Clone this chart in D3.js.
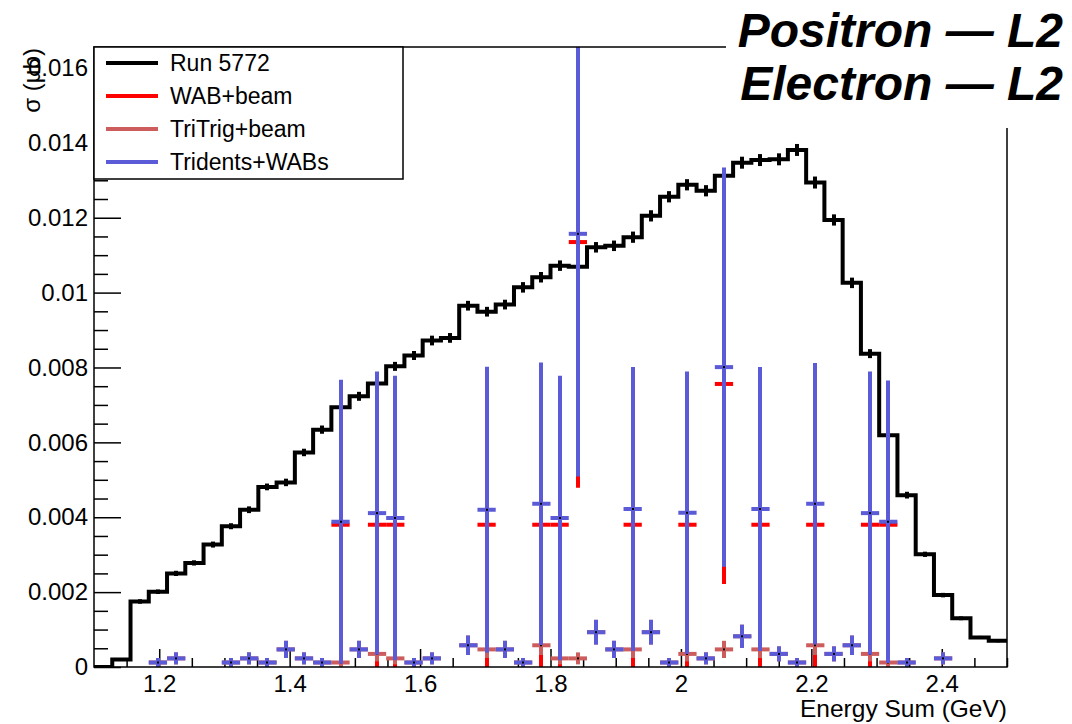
<!DOCTYPE html>
<html>
<head>
<meta charset="utf-8">
<script src="https://cdn.jsdelivr.net/npm/d3@7"></script>
<style>
  body { margin: 0; background: #ffffff; }
  svg text { font-family: "Liberation Sans", Arial, Helvetica, sans-serif; fill: #000; }
</style>
</head>
<body>
<svg id="chart" width="1072" height="724"></svg>
<script>
// ---- data: energy-sum histogram, 50 bins of 0.028 GeV from 1.1 to 2.5 GeV ----
const binWidth = 0.028;
const binCenters = [
  1.114, 1.142, 1.170, 1.198, 1.226, 1.254, 1.282, 1.310, 1.338, 1.366,
  1.394, 1.422, 1.450, 1.478, 1.506, 1.534, 1.562, 1.590, 1.618, 1.646,
  1.674, 1.702, 1.730, 1.758, 1.786, 1.814, 1.842, 1.870, 1.898, 1.926,
  1.954, 1.982, 2.010, 2.038, 2.066, 2.094, 2.122, 2.150, 2.178, 2.206,
  2.234, 2.262, 2.290, 2.318, 2.346, 2.374, 2.402, 2.430, 2.458, 2.486
];

// Run 5772 (data)
const runValues = [
  0.00000, 0.00020, 0.00175, 0.00201, 0.00250, 0.00278, 0.00327, 0.00376, 0.00420, 0.00481,
  0.00493, 0.00573, 0.00634, 0.00694, 0.00723, 0.00757, 0.00803, 0.00832, 0.00872, 0.00879,
  0.00965, 0.00949, 0.00968, 0.01014, 0.01041, 0.01072, 0.01069, 0.01121, 0.01125, 0.01148,
  0.01205, 0.01256, 0.01288, 0.01272, 0.01312, 0.01347, 0.01354, 0.01356, 0.01381, 0.01294,
  0.01194, 0.01026, 0.00837, 0.00619, 0.00459, 0.00301, 0.00192, 0.00130, 0.00079, 0.00070
];
const runErrors = [
  0.00000, 0.00002, 0.00006, 0.00006, 0.00007, 0.00007, 0.00008, 0.00008, 0.00009, 0.00009,
  0.00010, 0.00010, 0.00011, 0.00011, 0.00012, 0.00012, 0.00012, 0.00012, 0.00013, 0.00013,
  0.00013, 0.00013, 0.00013, 0.00014, 0.00014, 0.00014, 0.00014, 0.00014, 0.00014, 0.00015,
  0.00015, 0.00015, 0.00015, 0.00015, 0.00016, 0.00016, 0.00016, 0.00016, 0.00016, 0.00016,
  0.00015, 0.00014, 0.00012, 0.00011, 0.00009, 0.00007, 0.00006, 0.00005, 0.00004, 0.00004
];

// WAB+beam
const wabEnergy = [1.478, 1.534, 1.562, 1.702, 1.786, 1.814, 1.842, 1.926, 2.010, 2.066, 2.122, 2.206, 2.290, 2.318];
const wabValues = [0.0038, 0.0038, 0.0038, 0.0038, 0.0038, 0.0038, 0.01135, 0.0038, 0.0038, 0.00756, 0.0038, 0.0038, 0.0038, 0.0038];
const wabErrors = [0.0038, 0.0038, 0.0038, 0.0038, 0.0038, 0.0038, 0.00656, 0.0038, 0.0038, 0.00534, 0.0038, 0.0038, 0.0038, 0.0038];

// TriTrig+beam
const triEnergy = [
  1.198, 1.226, 1.310, 1.338, 1.366, 1.394, 1.422, 1.450, 1.478, 1.506,
  1.534, 1.562, 1.590, 1.618, 1.674, 1.702, 1.730, 1.758, 1.786, 1.814,
  1.842, 1.870, 1.898, 1.926, 1.954, 1.982, 2.010, 2.038, 2.066, 2.094,
  2.122, 2.150, 2.178, 2.206, 2.234, 2.262, 2.290, 2.318, 2.346, 2.402
];
const triValues = [
  0.00012, 0.00023, 0.00012, 0.00023, 0.00012, 0.00047, 0.00023, 0.00012, 0.00012, 0.00047,
  0.00035, 0.00023, 0.00012, 0.00023, 0.00058, 0.00047, 0.00047, 0.00012, 0.00058, 0.00023,
  0.00023, 0.00093, 0.00047, 0.00047, 0.00093, 0.00012, 0.00035, 0.00023, 0.00047, 0.00082,
  0.00047, 0.00035, 0.00012, 0.00058, 0.00035, 0.00058, 0.00035, 0.00012, 0.00012, 0.00023
];
const triErrors = [
  0.00012, 0.00016, 0.00012, 0.00016, 0.00012, 0.00023, 0.00016, 0.00012, 0.00012, 0.00023,
  0.00020, 0.00016, 0.00012, 0.00016, 0.00026, 0.00023, 0.00023, 0.00012, 0.00026, 0.00016,
  0.00016, 0.00033, 0.00023, 0.00023, 0.00033, 0.00012, 0.00020, 0.00016, 0.00023, 0.00031,
  0.00023, 0.00020, 0.00012, 0.00026, 0.00020, 0.00026, 0.00020, 0.00012, 0.00012, 0.00016
];

// Tridents+WABs
const sumEnergy = triEnergy;
const sumValues = [
  0.00012, 0.00023, 0.00012, 0.00023, 0.00012, 0.00047, 0.00023, 0.00012, 0.00388, 0.00047,
  0.00411, 0.00398, 0.00012, 0.00023, 0.00058, 0.00420, 0.00047, 0.00012, 0.00436, 0.00398,
  0.01157, 0.00093, 0.00047, 0.00422, 0.00093, 0.00012, 0.00412, 0.00023, 0.00801, 0.00082,
  0.00422, 0.00035, 0.00012, 0.00436, 0.00035, 0.00058, 0.00411, 0.00388, 0.00012, 0.00023
];
const sumErrors = [
  0.00012, 0.00016, 0.00012, 0.00016, 0.00012, 0.00023, 0.00016, 0.00012, 0.00379, 0.00023,
  0.00378, 0.00380, 0.00012, 0.00016, 0.00026, 0.00382, 0.00023, 0.00012, 0.00377, 0.00380,
  0.00648, 0.00033, 0.00023, 0.00379, 0.00033, 0.00012, 0.00377, 0.00016, 0.00533, 0.00031,
  0.00379, 0.00020, 0.00012, 0.00376, 0.00020, 0.00026, 0.00378, 0.00377, 0.00012, 0.00016
];

const xTickValues = [1.2, 1.4, 1.6, 1.8, 2.0, 2.2, 2.4];
const xTickLabels = ["1.2", "1.4", "1.6", "1.8", "2", "2.2", "2.4"];
const yTickValues = [0, 0.002, 0.004, 0.006, 0.008, 0.010, 0.012, 0.014, 0.016];
const yTickLabels = ["0", "0.002", "0.004", "0.006", "0.008", "0.01", "0.012", "0.014", "0.016"];

const legendNames = ["Run 5772", "WAB+beam", "TriTrig+beam", "Tridents+WABs"];
const titleLines = ["Positron \u2014 L2", "Electron \u2014 L2"];

// ---- layout ----
const W = 1072, H = 724;
const frame = { left: 94, right: 1007, top: 47, bottom: 667 };
const colors = { run: "#000000", wab: "#ff0000", tri: "#cd5c5c", sum: "#5b5bd8" };

const svg = d3.select("#chart");
svg.append("rect").attr("width", W).attr("height", H).attr("fill", "#fff");

const x = d3.scaleLinear().domain([1.1, 2.5]).range([frame.left, frame.right]);
const y = d3.scaleLinear().domain([0, 0.01656]).range([frame.bottom, frame.top]);
// pixel-aligned centre for 4px-wide vertical bars
const xc = v => Math.round(x(v));

svg.append("defs").append("clipPath").attr("id", "plotClip")
  .append("rect")
  .attr("x", frame.left).attr("y", frame.top)
  .attr("width", frame.right - frame.left).attr("height", frame.bottom - frame.top);

// ---- axes (ticks point into the frame) ----
const fontSize = 24;
const xMinor = d3.range(1.15, 2.5001, 0.05).filter(v => !xTickValues.some(t => Math.abs(t - v) < 1e-6));
const yMinor = d3.range(0.0005, 0.01656, 0.0005).filter(v => !yTickValues.some(t => Math.abs(t - v) < 1e-9));

const gxMinor = svg.append("g").attr("transform", `translate(0,${frame.bottom})`)
  .call(d3.axisBottom(x).tickValues(xMinor).tickSize(-9).tickFormat(""));
const gx = svg.append("g").attr("transform", `translate(0,${frame.bottom})`)
  .call(d3.axisBottom(x).tickValues(xTickValues).tickSize(-18).tickPadding(8)
    .tickFormat((d, i) => xTickLabels[i]));
const gyMinor = svg.append("g").attr("transform", `translate(${frame.left},0)`)
  .call(d3.axisLeft(y).tickValues(yMinor).tickSize(-14).tickFormat(""));
const gy = svg.append("g").attr("transform", `translate(${frame.left},0)`)
  .call(d3.axisLeft(y).tickValues(yTickValues).tickSize(-27).tickPadding(6)
    .tickFormat((d, i) => yTickLabels[i]));

[gxMinor, gx, gyMinor, gy].forEach(g => {
  g.select(".domain").remove();
  g.selectAll(".tick line").attr("stroke", "#000").attr("stroke-width", 1.5);
  g.selectAll(".tick text").attr("font-size", fontSize)
    .style("font-family", '"Liberation Sans", Arial, sans-serif').attr("fill", "#000");
});
gx.selectAll(".tick text").attr("dy", "0.7em");

// ---- plot contents ----
const plot = svg.append("g").attr("clip-path", "url(#plotClip)");
const lw = 4;

// data histogram as a step outline
const stepPts = [];
binCenters.forEach((c, i) => {
  stepPts.push([x(c - binWidth / 2), y(runValues[i])]);
  stepPts.push([x(c + binWidth / 2), y(runValues[i])]);
});
plot.append("path")
  .attr("d", d3.line()(stepPts))
  .attr("fill", "none").attr("stroke", colors.run)
  .attr("stroke-width", lw).attr("stroke-linejoin", "miter");
plot.append("g").selectAll("line")
  .data(binCenters.map((c, i) => ({ c, v: runValues[i], e: runErrors[i] })).filter(d => d.e > 0))
  .join("line")
  .attr("x1", d => xc(d.c)).attr("x2", d => xc(d.c))
  .attr("y1", d => y(d.v - d.e)).attr("y2", d => y(d.v + d.e))
  .attr("stroke", colors.run).attr("stroke-width", lw);

function drawCrosses(energy, values, errors, color) {
  const g = plot.append("g");
  const pts = energy.map((c, i) => ({ c, v: values[i], e: errors[i] }));
  g.selectAll("line.v").data(pts).join("line").attr("class", "v")
    .attr("x1", d => xc(d.c)).attr("x2", d => xc(d.c))
    .attr("y1", d => y(Math.max(0, d.v - d.e))).attr("y2", d => y(d.v + d.e))
    .attr("stroke", color).attr("stroke-width", lw);
  g.selectAll("line.h").data(pts).join("line").attr("class", "h")
    .attr("x1", d => x(d.c - binWidth / 2)).attr("x2", d => x(d.c + binWidth / 2))
    .attr("y1", d => y(d.v)).attr("y2", d => y(d.v))
    .attr("stroke", color).attr("stroke-width", lw);
  g.selectAll("rect.m").data(pts).join("rect").attr("class", "m")
    .attr("x", d => xc(d.c) - 1).attr("y", d => y(d.v) - 1)
    .attr("width", 2).attr("height", 2).attr("fill", "#000");
}
drawCrosses(wabEnergy, wabValues, wabErrors, colors.wab);
drawCrosses(triEnergy, triValues, triErrors, colors.tri);
drawCrosses(sumEnergy, sumValues, sumErrors, colors.sum);

// frame
svg.append("rect")
  .attr("x", frame.left).attr("y", frame.top)
  .attr("width", frame.right - frame.left).attr("height", frame.bottom - frame.top)
  .attr("fill", "none").attr("stroke", "#000").attr("stroke-width", 1.5);

// ---- legend ----
const legend = svg.append("g");
legend.append("rect").attr("x", 94).attr("y", 47).attr("width", 309).attr("height", 132)
  .attr("fill", "#fff").attr("stroke", "#000").attr("stroke-width", 1.5);
const legendColors = [colors.run, colors.wab, colors.tri, colors.sum];
legendNames.forEach((name, i) => {
  const ly = 63 + i * 33;
  legend.append("line").attr("x1", 106).attr("x2", 158).attr("y1", ly).attr("y2", ly)
    .attr("stroke", legendColors[i]).attr("stroke-width", lw);
  legend.append("text").attr("x", 170).attr("y", ly + 8).attr("font-size", 23).text(name);
});

// ---- axis titles ----
svg.append("text")
  .attr("transform", "translate(40,48) rotate(-90)")
  .attr("text-anchor", "end").attr("font-size", fontSize)
  .text("\u03c3 (\u03bcb)");
svg.append("text")
  .attr("x", frame.right).attr("y", 717).attr("text-anchor", "end")
  .attr("font-size", 24.5).text("Energy Sum (GeV)");

// ---- title block ----
svg.append("rect").attr("x", 726).attr("y", 0).attr("width", W - 726).attr("height", 128).attr("fill", "#fff");
titleLines.forEach((t, i) => {
  svg.append("text")
    .attr("x", 1063).attr("y", 47 + i * 53).attr("text-anchor", "end")
    .attr("font-size", 48).attr("font-weight", "bold").attr("font-style", "italic")
    .text(t);
});
</script>
</body>
</html>
